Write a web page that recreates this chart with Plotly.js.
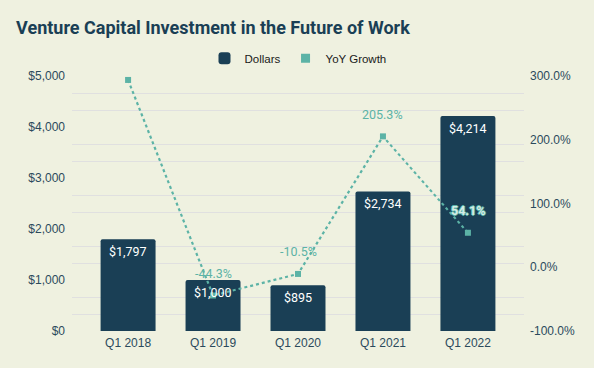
<!DOCTYPE html>
<html>
<head>
<meta charset="utf-8">
<script src="https://cdn.plot.ly/plotly-3.0.1.min.js"></script>
<style>html,body{margin:0;padding:0;background:#eff1e0;}#chart{width:594px;height:368px;}</style>
</head>
<body>
<div id="chart"></div>
<script>
const categories = ["Q1 2018", "Q1 2019", "Q1 2020", "Q1 2021", "Q1 2022"];
const dollars = [1797, 1000, 895, 2734, 4214];
const yoyGrowth = [293.8, -44.3, -10.5, 205.3, 54.1];
const yoyLabels = ["", "-44.3%", "-10.5%", "205.3%", "54.1%"];
const leftTicks = [0, 1000, 2000, 3000, 4000, 5000];
const rightTicks = [-100, 0, 100, 200, 300];
const rightTickText = ["-100.0%", "0.0%", "100.0%", "200.0%", "300.0%"];
const gridVals = [333.33, 666.67, 1333.33, 1666.67, 2333.33, 2666.67, 3333.33, 3666.67, 4333.33, 4666.67];

const navy = "#1a3f55";
const teal = "#5cb3a6";
const insideBar = [false, false, false, false, true];

const traces = [
  {
    type: "bar", name: "Dollars", x: categories, y: dollars,
    marker: {color: navy, cornerradius: 2},
    hoverinfo: "skip"
  },
  {
    type: "scatter", name: "YoY Growth", x: categories, y: yoyGrowth, yaxis: "y2",
    mode: "lines+markers",
    line: {color: teal, width: 2.2, dash: "dot"},
    marker: {symbol: "square", size: 6, color: teal},
    showlegend: false, cliponaxis: false
  },
  {
    type: "scatter", name: "YoY Growth", x: [null], y: [null], yaxis: "y2",
    mode: "markers", marker: {symbol: "square", size: 9, color: teal},
    showlegend: true
  }
];

const annotations = [];
categories.forEach((c, i) => {
  annotations.push({
    x: c, y: dollars[i], xref: "x", yref: "y",
    text: "$" + dollars[i].toLocaleString("en-US"),
    showarrow: false, yanchor: "middle", yshift: -12,
    font: {family: "Roboto", size: 12.5, color: "#ffffff"}
  });
  if (yoyLabels[i]) {
    const hl = insideBar[i];
    annotations.push({
      x: c, y: yoyGrowth[i], xref: "x", yref: "y2",
      text: hl ? "<b>" + yoyLabels[i] + "</b>" : yoyLabels[i],
      showarrow: false, yanchor: "middle", yshift: 22,
      font: hl ? {family: "Roboto", size: 12.5, color: "#d6ece8",
        shadow: "1px 0 0 " + teal + ", -1px 0 0 " + teal + ", 0 1px 0 " + teal + ", 0 -1px 0 " + teal}
        : {family: "Roboto", size: 12.5, color: teal}
    });
  }
});

const layout = {
  width: 594, height: 368,
  paper_bgcolor: "#eff1e0", plot_bgcolor: "#eff1e0",
  margin: {l: 72, r: 70, t: 76, b: 37},
  title: {text: "<b>Venture Capital Investment in the Future of Work</b>",
    font: {family: "Roboto", size: 18, color: navy},
    x: 0.027, xanchor: "left", xref: "container", y: 0.925, yanchor: "middle", yref: "container"},
  showlegend: true,
  legend: {orientation: "h", x: 0.5, xanchor: "center", y: 1.07, yanchor: "middle",
    font: {family: "Liberation Sans, Arial", size: 11.5, color: "#1a1a1a"},
    bgcolor: "rgba(0,0,0,0)", itemwidth: 30, traceorder: "normal"},
  bargap: 0.353,
  annotations: annotations,
  xaxis: {type: "category", range: [-0.66, 4.66], showgrid: false, zeroline: false,
    showline: false, ticks: "", ticklabelstandoff: 3,
    tickfont: {family: "Liberation Sans, Arial", size: 12, color: "#2b4a5c"}},
  yaxis: {range: [0, 5000], tickvals: leftTicks, tickformat: "$,.0f",
    showgrid: false, zeroline: false, showline: false, ticks: "",
    ticklabelstandoff: 6,
    tickfont: {family: "Liberation Sans, Arial", size: 12, color: "#2b4a5c"},
    minor: {tickvals: gridVals, showgrid: true, gridcolor: "#e0e0e0", gridwidth: 1, ticks: ""}},
  yaxis2: {range: [-100, 300], tickvals: rightTicks, ticktext: rightTickText,
    overlaying: "y", side: "right", showgrid: false, zeroline: false, showline: false,
    ticks: "", ticklabelstandoff: 5,
    tickfont: {family: "Liberation Sans, Arial", size: 12, color: "#2b4a5c"}}
};

Plotly.newPlot("chart", traces, layout, {displayModeBar: false, staticPlot: true});
</script>
</body>
</html>
